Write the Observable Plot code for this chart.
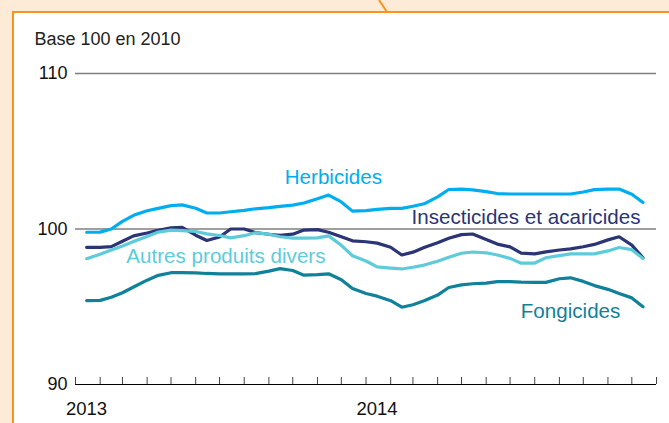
<!DOCTYPE html>
<html>
<head>
<meta charset="utf-8">
<script src="https://cdn.jsdelivr.net/npm/d3@7"></script>
<script src="https://cdn.jsdelivr.net/npm/@observablehq/plot@0.6"></script>
<style>
  html, body { margin: 0; padding: 0; width: 669px; height: 423px; overflow: hidden; background: #fdebd7; }
  #panel { position: absolute; left: 12px; top: 11px; width: 720px; height: 500px; border: 2px solid #f7941d; background: #fff; }
  #callout { position: absolute; left: 0; top: 0; }
  #chart { position: absolute; left: 0; top: 0; }
</style>
</head>
<body>
<div id="panel"></div>
<svg id="callout" width="669" height="20"><line x1="379" y1="0" x2="387" y2="12" stroke="#f7941d" stroke-width="2"/></svg>
<div id="chart"></div>
<script>
// Half-monthly observation dates
const dates = [
  "2013-01-15","2013-02-01","2013-02-15","2013-03-01","2013-03-15","2013-04-01","2013-04-15","2013-05-01","2013-05-15","2013-06-01","2013-06-15","2013-07-01",
  "2013-07-15","2013-08-01","2013-08-15","2013-09-01","2013-09-15","2013-10-01","2013-10-15","2013-11-01","2013-11-15","2013-12-01","2013-12-15",
  "2014-01-01","2014-01-15","2014-02-01","2014-02-15","2014-03-01","2014-03-15","2014-04-01","2014-04-15","2014-05-01","2014-05-15","2014-06-01",
  "2014-06-15","2014-07-01","2014-07-15","2014-08-01","2014-08-15","2014-09-01","2014-09-15","2014-10-01","2014-10-15","2014-11-01","2014-11-15",
  "2014-12-01","2014-12-15"
];
const seriesNames = ["Herbicides", "Insecticides et acaricides", "Autres produits divers", "Fongicides"];
const herbicides = [99.79, 99.80, 100.0, 100.49, 100.88, 101.17, 101.33, 101.5, 101.55, 101.33, 101.03, 101.03, 101.11, 101.2, 101.3, 101.37, 101.46, 101.54, 101.67, 101.95, 102.18, 101.74, 101.15, 101.18, 101.26, 101.33, 101.33, 101.46, 101.62, 102.07, 102.54, 102.57, 102.52, 102.4, 102.28, 102.25, 102.25, 102.25, 102.25, 102.25, 102.25, 102.38, 102.53, 102.57, 102.57, 102.24, 101.7];
const insecticides = [98.82, 98.82, 98.87, 99.21, 99.56, 99.74, 99.92, 100.08, 100.11, 99.6, 99.26, 99.49, 100.0, 100.0, 99.77, 99.66, 99.6, 99.67, 99.93, 99.96, 99.79, 99.5, 99.24, 99.18, 99.09, 98.83, 98.33, 98.51, 98.81, 99.12, 99.4, 99.64, 99.68, 99.33, 99.03, 98.85, 98.45, 98.4, 98.53, 98.65, 98.72, 98.86, 99.01, 99.3, 99.5, 98.96, 98.15];
const autres = [98.09, 98.38, 98.65, 98.9, 99.19, 99.52, 99.8, 99.93, 99.89, 99.84, 99.69, 99.58, 99.43, 99.57, 99.76, 99.67, 99.5, 99.41, 99.41, 99.43, 99.56, 98.95, 98.28, 97.94, 97.56, 97.49, 97.43, 97.54, 97.68, 97.93, 98.18, 98.44, 98.52, 98.47, 98.33, 98.11, 97.8, 97.81, 98.15, 98.29, 98.4, 98.4, 98.4, 98.59, 98.81, 98.67, 98.1];
const fongicides = [95.4, 95.41, 95.61, 95.9, 96.27, 96.71, 97.02, 97.19, 97.2, 97.18, 97.14, 97.12, 97.11, 97.11, 97.13, 97.29, 97.45, 97.33, 97.03, 97.06, 97.12, 96.74, 96.17, 95.85, 95.68, 95.39, 94.97, 95.13, 95.38, 95.75, 96.24, 96.41, 96.48, 96.52, 96.62, 96.61, 96.58, 96.57, 96.57, 96.8, 96.86, 96.63, 96.36, 96.12, 95.85, 95.57, 95.0];
const yTicks = [90, 100, 110];
const yearLabels = ["2013", "2014"];
const yearDates = ["2013-01-01", "2014-01-01"];
// label anchors (date, value) for the series names
const labelDates = ["2013-11-21", "2014-07-21", "2013-07-09", "2014-09-15"];
const labelValues = [103.35, 100.73, 98.22, 94.72];
const unitText = "Base 100 en 2010";

const colors = ["#00aeef", "#2b3475", "#5ecbdb", "#10819a"];
const seriesValues = [herbicides, insecticides, autres, fongicides];

const table = [];
seriesNames.forEach((name, i) => {
  seriesValues[i].forEach((v, j) => table.push({series: name, date: new Date(dates[j]), value: v}));
});
const labels = seriesNames.map((name, i) => ({series: name, date: new Date(labelDates[i]), value: labelValues[i]}));
const years = yearLabels.map((t, i) => ({text: t, date: new Date(yearDates[i])}));
const monthTicks = d3.utcMonth.range(new Date("2013-01-01"), new Date("2015-01-02"));

const chart = Plot.plot({
  width: 669,
  height: 423,
  marginLeft: 75,
  marginRight: 13,
  marginTop: 73,
  marginBottom: 39,
  style: {fontFamily: "'Liberation Sans', Arial, sans-serif", background: "transparent", overflow: "visible"},
  x: {type: "utc", domain: [new Date("2013-01-01"), new Date("2015-01-01")]},
  y: {domain: [90, 110]},
  color: {domain: seriesNames, range: colors},
  marks: [
    Plot.ruleY([100, 110], {stroke: "#7f7f7f", strokeWidth: 1.5}),
    Plot.ruleY([90], {stroke: "#000", strokeWidth: 1.2}),
    Plot.axisY({ticks: yTicks, tickSize: 0, tickPadding: 8, fontSize: 18, label: null, fill: "#111"}),
    Plot.axisX({ticks: monthTicks, tickSize: -7, tickFormat: () => "", label: null, stroke: "#444"}),
    Plot.text(years, {x: "date", y: 90, text: "text", dx: 11, dy: 25, fontSize: 18.5, fill: "#111"}),
    Plot.text([unitText], {frameAnchor: "top-left", dx: -41, dy: -41, textAnchor: "start", fontSize: 18, fill: "#222"}),
    Plot.line(table, {x: "date", y: "value", z: "series", stroke: "series", strokeWidth: 3.2, strokeLinejoin: "round", curve: "linear"}),
    Plot.text(labels, {x: "date", y: "value", text: "series", fill: "series", fontSize: 20.6})
  ]
});
document.getElementById("chart").appendChild(chart);
</script>
</body>
</html>
